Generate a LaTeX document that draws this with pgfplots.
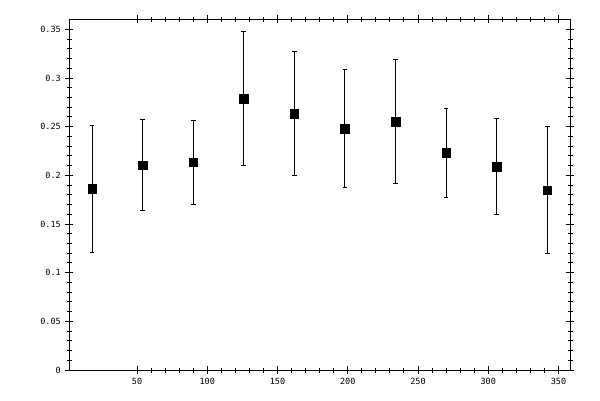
\documentclass[border=0pt]{standalone}
\usepackage{fontspec}
\setmonofont{DejaVu Sans Mono}
\usepackage{pgfplots}
\pgfplotsset{compat=1.18}
\begin{document}
\begin{tikzpicture}
\begin{axis}[
    scale only axis,
    width=500.7pt, height=351pt,
    xmin=1.8, xmax=358.2,
    ymin=0, ymax=0.3606,
    xtick={50,100,150,200,250,300,350},
    ytick={0,0.05,0.1,0.15,0.2,0.25,0.3,0.35},
    yticklabels={0,0.05,0.1,0.15,0.2,0.25,0.3,0.35},
    minor x tick num=4,
    minor y tick num=4,
    tick align=center,
    major tick length=8pt,
    minor tick length=5pt,
    tick style={black, line width=0.9pt},
    axis line style={line width=1pt},
    ticklabel style={font=\ttfamily\fontsize{8.5}{9}\selectfont},
    /pgf/number format/assume math mode=true,
    scaled ticks=false,
    xticklabel style={yshift=-1pt},
    yticklabel style={xshift=-1pt},
    ]
    \addplot[only marks, mark=square*, mark size=4.3pt, black,
        error bars/.cd, y dir=both, y explicit,
        error bar style={line width=1pt},
        error mark options={rotate=90, mark size=2.3pt, line width=1pt}]
    coordinates {
        (18, 0.186)  +- (0, 0.0652)
        (54, 0.2105) +- (0, 0.0466)
        (90, 0.2133) +- (0, 0.0432)
        (126, 0.2788) +- (0, 0.0692)
        (162, 0.2636) +- (0, 0.0635)
        (198, 0.2482) +- (0, 0.0604)
        (234, 0.2553) +- (0, 0.0640)
        (270, 0.2232) +- (0, 0.0457)
        (306, 0.2091) +- (0, 0.0493)
        (342, 0.1848) +- (0, 0.0652)
    };
\end{axis}
\pgfresetboundingbox
\path[use as bounding box] ([xshift=-69.3pt, yshift=-30pt]current axis.south west) rectangle ++(600pt, 400pt);
\end{tikzpicture}
\end{document}
